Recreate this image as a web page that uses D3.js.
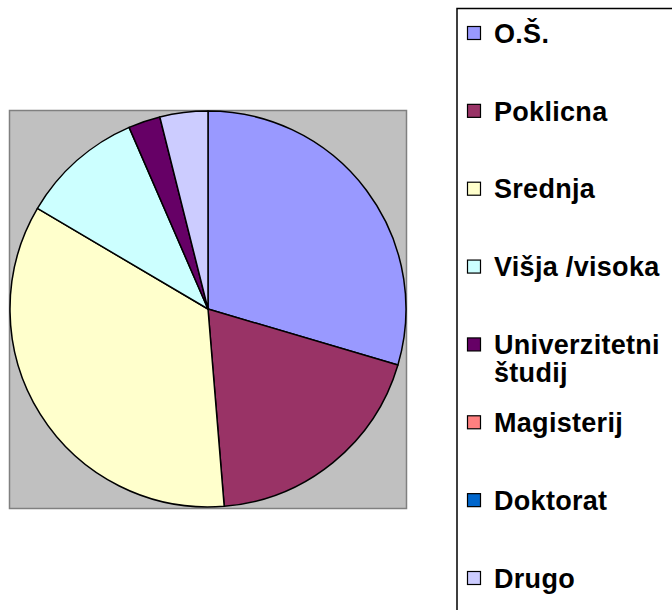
<!DOCTYPE html>
<html>
<head>
<meta charset="utf-8">
<script src="https://cdn.jsdelivr.net/npm/d3@7"></script>
<style>
  body { margin: 0; background: #fff; }
  svg { display: block; }
  .lg { font-family: "Liberation Sans", Arial, sans-serif; font-weight: bold; font-size: 27px; letter-spacing: 0.3px; }
</style>
</head>
<body>
<div id="chart"></div>
<script>
// data (counts, share of the pie)
const categories = ["O.Š.", "Poklicna", "Srednja", "Višja /visoka", "Univerzitetni študij", "Magisterij", "Doktorat", "Drugo"];
const values = [68, 44, 80, 23, 6, 0, 0, 9];
const colors = ["#9999FF", "#993366", "#FFFFCC", "#CCFFFF", "#660066", "#FF8080", "#0066CC", "#CCCCFF"];
const legendLines = [["O.Š."], ["Poklicna"], ["Srednja"], ["Višja /visoka"], ["Univerzitetni", "študij"], ["Magisterij"], ["Doktorat"], ["Drugo"]];

const W = 672, H = 610;
const svg = d3.select("#chart").append("svg")
  .attr("width", W)
  .attr("height", H);

// plot area
const plot = { x: 9.5, y: 110.5, w: 397, h: 398 };
svg.append("rect")
  .attr("x", plot.x).attr("y", plot.y)
  .attr("width", plot.w).attr("height", plot.h)
  .attr("fill", "#C0C0C0")
  .attr("stroke", "#808080")
  .attr("stroke-width", 1.5);

const cx = 208, cy = 309, r = 198;

const pie = d3.pie().sort(null).value(d => d.v);
const arc = d3.arc().innerRadius(0).outerRadius(r);
const data = categories.map((c, i) => ({ c: c, v: values[i], col: colors[i] }));

svg.append("g")
  .attr("transform", `translate(${cx},${cy})`)
  .selectAll("path")
  .data(pie(data).filter(d => d.data.v > 0))
  .enter()
  .append("path")
  .attr("d", arc)
  .attr("fill", d => d.data.col)
  .attr("stroke", "#000")
  .attr("stroke-width", 1.5)
  .attr("stroke-linejoin", "round");

// legend
svg.append("rect")
  .attr("x", 457).attr("y", 8.5)
  .attr("width", 260).attr("height", 640)
  .attr("fill", "#fff")
  .attr("stroke", "#000")
  .attr("stroke-width", 1.5);

const rowY = d3.scalePoint().domain(categories).range([33, 578]);
const lineH = 28;

const items = svg.selectAll(".item")
  .data(data)
  .enter()
  .append("g")
  .attr("class", "item")
  .attr("transform", d => `translate(0,${rowY(d.c)})`);

items.append("rect")
  .attr("x", 467.5).attr("y", -6.5)
  .attr("width", 13).attr("height", 13)
  .attr("fill", d => d.col)
  .attr("stroke", "#000")
  .attr("stroke-width", 1.2);

items.each(function (d, i) {
  const g = d3.select(this);
  legendLines[i].forEach((t, k) => {
    g.append("text")
      .attr("class", "lg")
      .attr("x", 494)
      .attr("y", k * lineH)
      .attr("dy", "0.36em")
      .text(t);
  });
});
</script>
</body>
</html>
